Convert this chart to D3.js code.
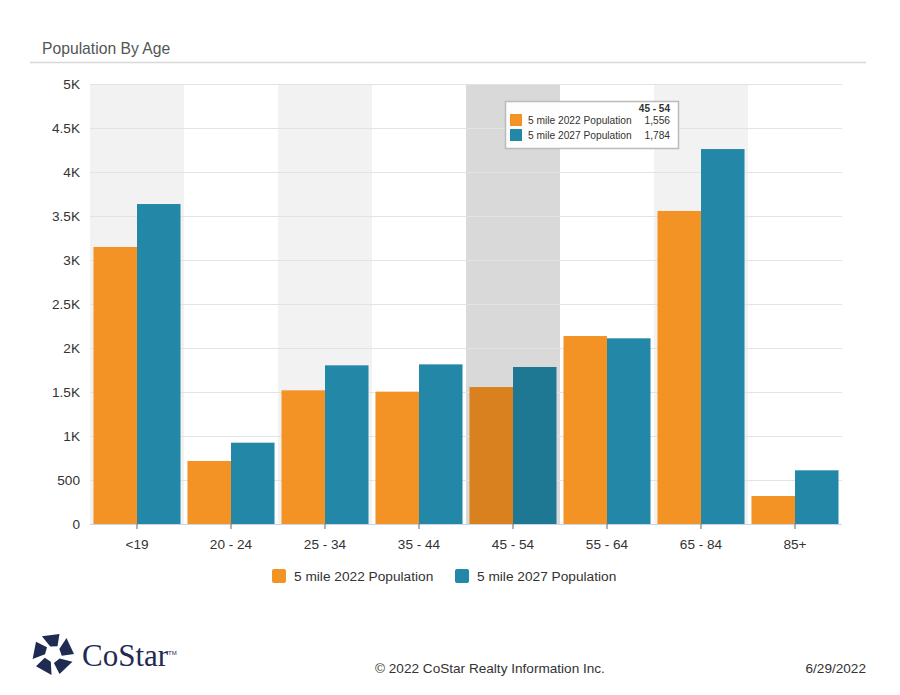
<!DOCTYPE html>
<html><head><meta charset="utf-8">
<script src="https://cdn.jsdelivr.net/npm/d3@7"></script>
<style>
html,body{margin:0;padding:0;background:#fff;}
svg{display:block;font-family:"Liberation Sans",Arial,Helvetica,sans-serif;}
</style></head>
<body>
<script>
const categories = ["<19","20 - 24","25 - 34","35 - 44","45 - 54","55 - 64","65 - 84","85+"];
const series2022 = [3148, 716, 1519, 1504, 1556, 2136, 3557, 318];
const series2027 = [3636, 924, 1803, 1814, 1784, 2110, 4261, 610];
const seriesNames = ["5 mile 2022 Population","5 mile 2027 Population"];
const yTicks = [0,500,1000,1500,2000,2500,3000,3500,4000,4500,5000];
const yTickLabels = ["0","500","1K","1.5K","2K","2.5K","3K","3.5K","4K","4.5K","5K"];
const hoveredCategory = "45 - 54";

const W=900,H=695;
const svg=d3.select("body").append("svg").attr("width",W).attr("height",H);
const colors=["#f39325","#2388a8"];
const hoverColors=["#d9801f","#1f7893"];

// title
svg.append("text").attr("x",42).attr("y",54).attr("font-size",15.7).attr("fill","#555").text("Population By Age");
svg.append("line").attr("x1",30).attr("x2",866).attr("y1",62.5).attr("y2",62.5).attr("stroke","#d8d8d8").attr("stroke-width",1.5);

const x=d3.scaleBand().domain(categories).range([90,842]).paddingInner(0).paddingOuter(0);
const y=d3.scaleLinear().domain([0,5000]).range([524,84]);
const xs=d3.scaleBand().domain([0,1]).range([0,x.bandwidth()]).paddingOuter(0.08).paddingInner(0);

const g=svg.append("g");
// alternating bands
categories.forEach((c,i)=>{
  let fill=null;
  if(c===hoveredCategory) fill="#d9d9d9";
  else if(i%2===0) fill="#f2f2f2";
  if(fill) g.append("rect").attr("x",x(c)).attr("y",y(5000)).attr("width",x.bandwidth()).attr("height",y(0)-y(5000)).attr("fill",fill);
});
// gridlines
g.selectAll(".grid").data(yTicks).enter().append("line")
 .attr("x1",90).attr("x2",842).attr("y1",d=>Math.round(y(d))+0.5).attr("y2",d=>Math.round(y(d))+0.5)
 .attr("stroke","#e3e3e3").attr("stroke-width",1);

// y axis labels
const yAxis=d3.axisLeft(y).tickValues(yTicks).tickSize(0).tickPadding(10).tickFormat((d,i)=>yTickLabels[i]);
const ya=svg.append("g").attr("transform","translate(90,0)").call(yAxis);
ya.select(".domain").remove();
ya.selectAll("text").attr("font-size",13.6).attr("fill","#333").attr("font-family","Liberation Sans, Arial, sans-serif");

// bars
const data=categories.map((c,i)=>({c,v:[series2022[i],series2027[i]]}));
const bg=g.selectAll(".grp").data(data).enter().append("g").attr("transform",d=>`translate(${x(d.c)},0)`);
bg.selectAll("rect").data(d=>d.v.map((v,k)=>({v,k,c:d.c}))).enter().append("rect")
 .attr("x",d=>xs(d.k)).attr("width",xs.bandwidth())
 .attr("y",d=>y(d.v)).attr("height",d=>y(0)-y(d.v))
 .attr("fill",d=>d.c===hoveredCategory?hoverColors[d.k]:colors[d.k]);

// x axis
const xAxis=d3.axisBottom(x).tickSize(5).tickPadding(10);
const xa=svg.append("g").attr("transform","translate(0,524)").call(xAxis);
xa.select(".domain").attr("stroke","#ccd6eb").attr("d","M90,0.5H842");
xa.selectAll(".tick line").attr("stroke","#666");
xa.selectAll("text").attr("font-size",13.6).attr("fill","#333").attr("font-family","Liberation Sans, Arial, sans-serif");

// legend
const leg=svg.append("g");
const legX=[272,455];
seriesNames.forEach((n,k)=>{
  leg.append("rect").attr("x",legX[k]).attr("y",569).attr("width",14).attr("height",14).attr("rx",2).attr("fill",colors[k]);
  leg.append("text").attr("x",legX[k]+22).attr("y",581).attr("font-size",13.7).attr("fill","#333").text(n);
});

// tooltip
const hi=categories.indexOf(hoveredCategory);
const tt=svg.append("g").attr("transform","translate(505,101)");
tt.append("rect").attr("x",0.5).attr("y",0.5).attr("width",173).attr("height",47).attr("fill","rgba(255,255,255,0.95)").attr("stroke","#bbb").attr("stroke-width",1.5);
tt.append("text").attr("x",165).attr("y",11).attr("text-anchor","end").attr("font-size",10).attr("font-weight","bold").attr("fill","#333").text(hoveredCategory);
[series2022[hi],series2027[hi]].forEach((v,k)=>{
  const yy=13+k*15;
  tt.append("rect").attr("x",5).attr("y",yy).attr("width",12).attr("height",12).attr("fill",colors[k]);
  tt.append("text").attr("x",23).attr("y",yy+10).attr("font-size",10.2).attr("fill","#333").text(seriesNames[k]);
  tt.append("text").attr("x",165).attr("y",yy+10).attr("text-anchor","end").attr("font-size",10.2).attr("fill","#333").text(d3.format(",")(v));
});

// footer
svg.append("text").attr("x",375).attr("y",673).attr("font-size",13.6).attr("fill","#333").text("© 2022 CoStar Realty Information Inc.");
svg.append("text").attr("x",866).attr("y",673).attr("text-anchor","end").attr("font-size",13.6).attr("fill","#333").text("6/29/2022");

// logo
const logo=svg.append("g").attr("transform","translate(53,654)");
const navy="#1f2b52";
const pol=(r,a)=>[r*Math.cos(a*Math.PI/180), r*Math.sin(a*Math.PI/180)];
for(let i=0;i<5;i++){
  const a=-90+72*i;
  const pts=[pol(8,a-20),pol(21,a-32),pol(21,a+18),pol(9,a+30)];
  logo.append("path").attr("d","M"+pts.map(p=>p.join(",")).join("L")+"Z").attr("fill",navy);
}
svg.append("text").attr("x",82).attr("y",666).attr("font-family","Liberation Serif, DejaVu Serif, serif").attr("font-size",31).attr("fill",navy).text("CoStar");
svg.append("text").attr("x",168).attr("y",655).attr("font-family","Liberation Sans, Arial, sans-serif").attr("font-size",6).attr("fill",navy).text("TM");
</script>
</body></html>
